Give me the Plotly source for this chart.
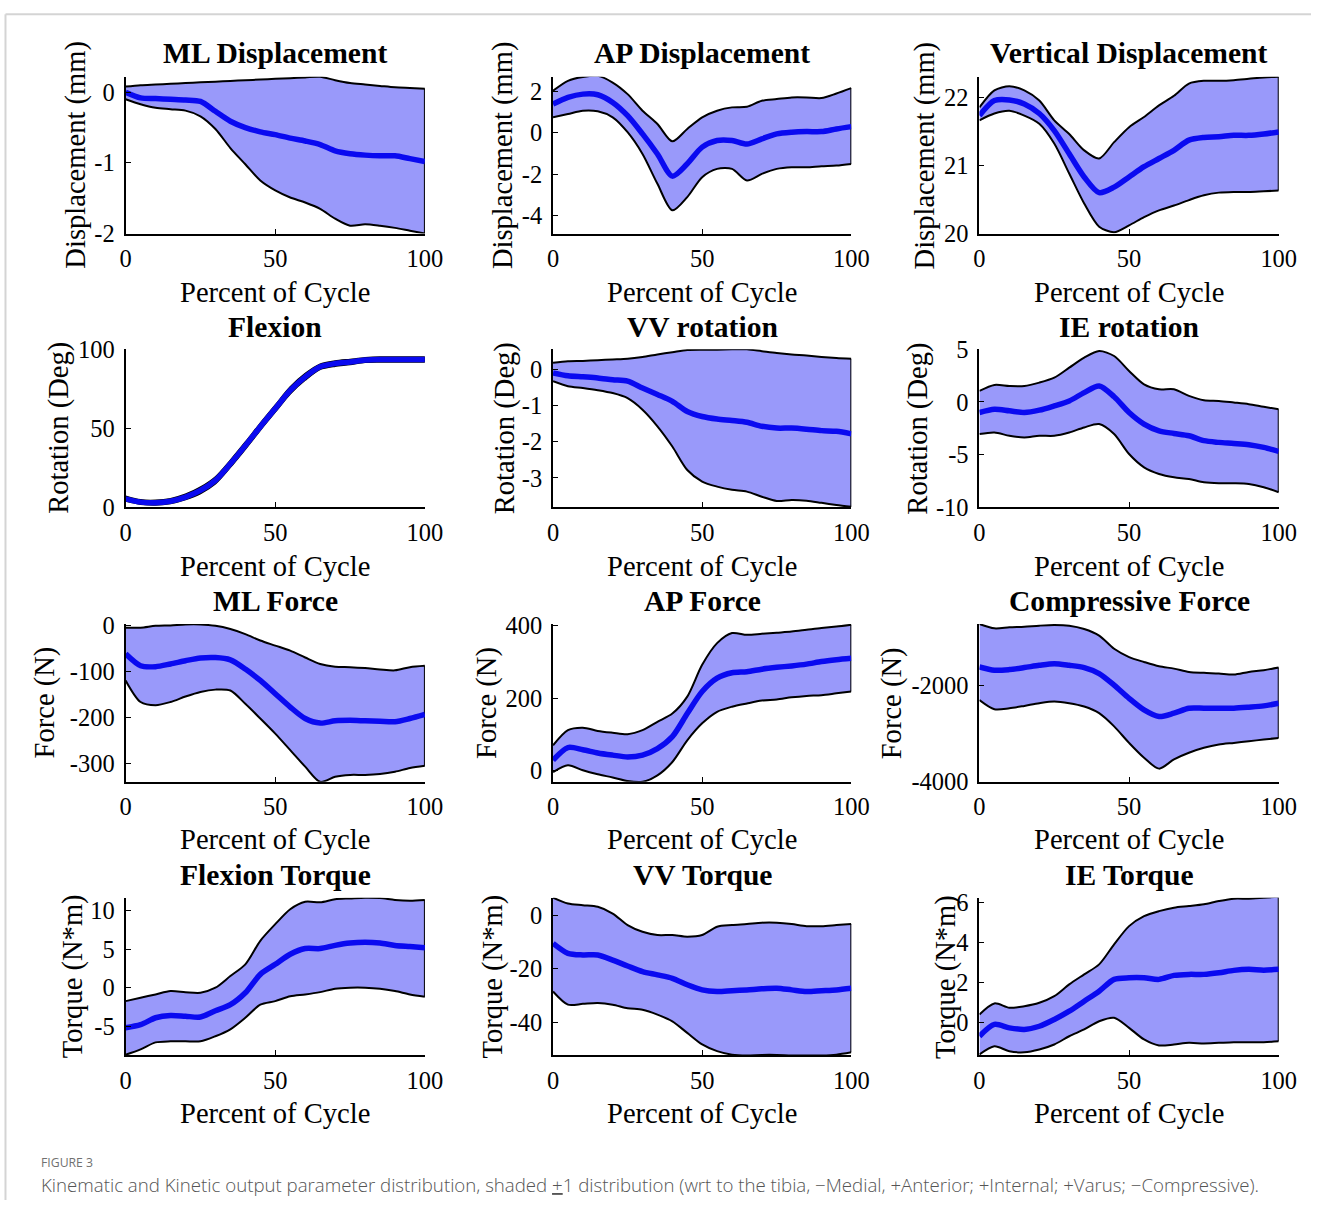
import plotly.graph_objects as go

W, H = 1329, 1214

PCT = [0, 5, 10, 15, 20, 25, 30, 35, 40, 45, 50, 55, 60, 65, 70, 75, 80, 85, 90, 95, 100]

ML_DISP_MEAN = [0.0, -0.08, -0.09, -0.1, -0.11, -0.13, -0.27, -0.41, -0.5, -0.56, -0.6, -0.65, -0.69, -0.74, -0.83, -0.87, -0.89, -0.9, -0.9, -0.94, -0.98]
ML_DISP_UPPER = [0.08, 0.1, 0.11, 0.12, 0.13, 0.14, 0.15, 0.16, 0.17, 0.18, 0.19, 0.2, 0.21, 0.22, 0.17, 0.13, 0.11, 0.09, 0.07, 0.06, 0.05]
ML_DISP_LOWER = [-0.1, -0.17, -0.22, -0.24, -0.26, -0.34, -0.52, -0.79, -1.02, -1.25, -1.39, -1.49, -1.56, -1.65, -1.79, -1.89, -1.87, -1.89, -1.92, -1.96, -2.0]

AP_DISP_MEAN = [1.38, 1.7, 1.86, 1.83, 1.46, 0.82, -0.06, -1.03, -2.1, -1.5, -0.7, -0.38, -0.38, -0.55, -0.3, -0.06, 0.02, 0.05, 0.05, 0.18, 0.29]
AP_DISP_UPPER = [2.02, 2.5, 2.69, 2.74, 2.42, 1.86, 1.06, 0.42, -0.42, 0.18, 0.74, 1.06, 1.22, 1.25, 1.54, 1.62, 1.7, 1.7, 1.67, 1.89, 2.15]
AP_DISP_LOWER = [0.74, 0.9, 1.06, 1.03, 0.74, 0.02, -1.03, -2.47, -3.75, -3.11, -2.15, -1.75, -1.75, -2.31, -1.99, -1.75, -1.67, -1.67, -1.62, -1.59, -1.51]

VERT_DISP_MEAN = [21.73, 21.95, 21.96, 21.9, 21.76, 21.51, 21.17, 20.83, 20.6, 20.68, 20.83, 20.98, 21.1, 21.22, 21.37, 21.41, 21.42, 21.44, 21.44, 21.46, 21.49]
VERT_DISP_UPPER = [21.85, 22.1, 22.16, 22.1, 21.95, 21.66, 21.46, 21.22, 21.1, 21.34, 21.56, 21.71, 21.88, 22.02, 22.2, 22.24, 22.24, 22.25, 22.27, 22.29, 22.3]
VERT_DISP_LOWER = [21.66, 21.76, 21.8, 21.73, 21.61, 21.32, 20.88, 20.44, 20.1, 20.02, 20.12, 20.24, 20.34, 20.41, 20.49, 20.56, 20.6, 20.61, 20.61, 20.62, 20.63]

FLEX_MEAN = [5.3, 3.2, 2.8, 3.8, 6.4, 10.6, 17, 27.5, 39, 51, 62.5, 74, 82.6, 89, 91, 92, 93.2, 93.6, 93.6, 93.6, 93.6]
FLEX_UPPER = [6.8, 4.5, 4.2, 5.2, 8, 12.5, 19, 29.5, 41, 53, 64.5, 76, 84.5, 90.5, 92.5, 93.5, 94.5, 95, 95, 95, 95]
FLEX_LOWER = [4, 2, 1.5, 2.5, 5, 8.8, 15, 25.5, 37, 49, 60.5, 72, 80.7, 87.5, 89.5, 90.5, 92, 92.2, 92.2, 92.2, 92.2]

VV_ROT_MEAN = [-0.09, -0.17, -0.2, -0.23, -0.28, -0.32, -0.51, -0.69, -0.88, -1.16, -1.3, -1.37, -1.41, -1.46, -1.57, -1.62, -1.62, -1.65, -1.69, -1.71, -1.78]
VV_ROT_UPPER = [0.19, 0.23, 0.24, 0.26, 0.28, 0.3, 0.35, 0.42, 0.48, 0.54, 0.55, 0.55, 0.56, 0.56, 0.51, 0.46, 0.42, 0.39, 0.35, 0.32, 0.3]
VV_ROT_LOWER = [-0.32, -0.46, -0.51, -0.57, -0.65, -0.79, -1.11, -1.57, -2.13, -2.78, -3.1, -3.24, -3.33, -3.38, -3.52, -3.64, -3.61, -3.63, -3.69, -3.75, -3.8]

IE_ROT_MEAN = [-1.0, -0.69, -0.84, -1.0, -0.78, -0.37, 0.1, 0.89, 1.52, 0.5, -1.0, -2.1, -2.74, -2.99, -3.21, -3.68, -3.84, -3.94, -4.06, -4.32, -4.7]
IE_ROT_UPPER = [1.05, 1.62, 1.52, 1.52, 1.84, 2.31, 3.26, 4.21, 4.84, 4.37, 2.95, 1.68, 1.21, 1.21, 0.58, 0.17, 0.1, -0.05, -0.21, -0.46, -0.69]
IE_ROT_LOWER = [-3.05, -2.9, -3.21, -3.37, -3.21, -3.21, -2.9, -2.42, -2.1, -3.05, -4.95, -6.21, -6.84, -7.16, -7.32, -7.63, -7.73, -7.73, -7.79, -8.1, -8.58]

ML_FORCE_MEAN = [-61, -87, -89, -83, -76, -70, -69, -74, -94, -119, -148, -177, -202, -212, -207, -206, -207, -208, -209, -202, -193]
ML_FORCE_UPPER = [-4, -4, 0, 1, 3, 3, 0, -7, -18, -32, -43, -54, -69, -83, -89, -90, -92, -95, -97, -90, -87]
ML_FORCE_LOWER = [-119, -166, -173, -166, -154, -144, -139, -141, -170, -202, -235, -271, -307, -340, -329, -325, -325, -323, -318, -310, -305]

AP_FORCE_MEAN = [28, 63, 57, 48, 42, 37, 42, 60, 93, 157, 218, 255, 270, 273, 280, 285, 289, 294, 301, 306, 310]
AP_FORCE_UPPER = [69, 111, 118, 109, 104, 100, 111, 134, 157, 204, 292, 352, 380, 375, 378, 381, 384, 389, 394, 398, 403]
AP_FORCE_LOWER = [-5, 14, 0, -11, -20, -30, -32, -14, 23, 83, 130, 162, 176, 185, 193, 196, 202, 206, 208, 213, 218]

COMP_FORCE_MEAN = [-1625, -1693, -1679, -1638, -1590, -1556, -1590, -1638, -1761, -2000, -2273, -2512, -2648, -2580, -2478, -2478, -2478, -2478, -2457, -2430, -2375]
COMP_FORCE_UPPER = [-737, -826, -805, -792, -771, -758, -771, -840, -976, -1249, -1420, -1522, -1611, -1659, -1727, -1747, -1761, -1782, -1727, -1693, -1638]
COMP_FORCE_LOWER = [-2307, -2498, -2478, -2430, -2375, -2341, -2375, -2444, -2580, -2853, -3195, -3502, -3727, -3536, -3399, -3297, -3229, -3195, -3160, -3126, -3092]

FLEX_TORQUE_MEAN = [-5.2, -4.8, -3.9, -3.6, -3.7, -3.8, -3.0, -2.2, -0.65, 1.74, 3.04, 4.35, 5.09, 5.09, 5.5, 5.8, 5.9, 5.8, 5.5, 5.35, 5.2]
FLEX_TORQUE_UPPER = [-1.74, -1.3, -0.87, -0.43, -0.57, -0.65, 0.0, 1.52, 3.04, 6.1, 8.26, 10.2, 11.17, 11.1, 11.5, 11.6, 11.7, 11.65, 11.4, 11.3, 11.4]
FLEX_TORQUE_LOWER = [-8.7, -8.0, -7.1, -6.96, -6.96, -6.96, -6.3, -5.4, -3.9, -2.2, -1.74, -1.1, -0.87, -0.57, -0.13, 0.0, 0.0, -0.13, -0.43, -0.87, -1.17]

VV_TORQUE_MEAN = [-10.5, -14.2, -14.8, -14.8, -16.7, -18.9, -21, -22.2, -23.5, -25.9, -27.8, -28.4, -28.1, -27.8, -27.4, -27.2, -27.8, -28.4, -28.1, -27.8, -27.2]
VV_TORQUE_UPPER = [6.5, 4.3, 3.7, 3.1, 0.6, -3.7, -6.2, -7.4, -7.4, -8.0, -7.4, -4.3, -3.7, -3.3, -2.8, -2.8, -3.3, -4.1, -4.1, -3.7, -3.3]
VV_TORQUE_LOWER = [-28.4, -33.3, -33, -32.7, -33.3, -34.6, -35.2, -37, -39.5, -43.8, -48.1, -50.6, -51.9, -52.2, -52.0, -52.0, -52.2, -52.2, -52.2, -51.9, -51]

IE_TORQUE_MEAN = [-0.67, -0.08, -0.25, -0.33, -0.17, 0.17, 0.58, 1.08, 1.58, 2.17, 2.25, 2.25, 2.17, 2.37, 2.42, 2.42, 2.5, 2.62, 2.67, 2.63, 2.67]
IE_TORQUE_UPPER = [0.42, 0.97, 0.75, 0.83, 1.0, 1.33, 1.92, 2.42, 2.92, 3.92, 4.83, 5.33, 5.58, 5.75, 5.83, 5.92, 6.08, 6.2, 6.2, 6.25, 6.3]
IE_TORQUE_LOWER = [-1.58, -1.17, -1.42, -1.47, -1.33, -1.08, -0.67, -0.33, 0.08, 0.25, -0.25, -0.83, -1.13, -1.08, -1.0, -1.03, -1.0, -0.97, -0.97, -0.97, -0.92]

TITLES = ["ML Displacement", "AP Displacement", "Vertical Displacement",
          "Flexion", "VV rotation", "IE rotation",
          "ML Force", "AP Force", "Compressive Force",
          "Flexion Torque", "VV Torque", "IE Torque"]
YLABELS = ["Displacement (mm)"] * 3 + ["Rotation (Deg)"] * 3 + ["Force (N)"] * 3 + ["Torque (N*m)"] * 3
XLABEL = "Percent of Cycle"
X_TICKS = [0, 50, 100]
Y_RANGES = [[-2, 0.22], [-4.87, 2.7], [20, 22.3],
            [0, 100], [-3.81, 0.56], [-10, 5],
            [-340, 4], [-32, 405], [-4000, -737],
            [-8.8, 11.7], [-52.2, 6.5], [-1.63, 6.25]]
Y_TICKS = [[-2, -1, 0], [-4, -2, 0, 2], [20, 21, 22],
           [0, 50, 100], [-3, -2, -1, 0], [-10, -5, 0, 5],
           [-300, -200, -100, 0], [0, 200, 400], [-4000, -2000],
           [-5, 0, 5, 10], [-40, -20, 0], [0, 2, 4, 6]]
SERIES = [
    (ML_DISP_MEAN, ML_DISP_UPPER, ML_DISP_LOWER),
    (AP_DISP_MEAN, AP_DISP_UPPER, AP_DISP_LOWER),
    (VERT_DISP_MEAN, VERT_DISP_UPPER, VERT_DISP_LOWER),
    (FLEX_MEAN, FLEX_UPPER, FLEX_LOWER),
    (VV_ROT_MEAN, VV_ROT_UPPER, VV_ROT_LOWER),
    (IE_ROT_MEAN, IE_ROT_UPPER, IE_ROT_LOWER),
    (ML_FORCE_MEAN, ML_FORCE_UPPER, ML_FORCE_LOWER),
    (AP_FORCE_MEAN, AP_FORCE_UPPER, AP_FORCE_LOWER),
    (COMP_FORCE_MEAN, COMP_FORCE_UPPER, COMP_FORCE_LOWER),
    (FLEX_TORQUE_MEAN, FLEX_TORQUE_UPPER, FLEX_TORQUE_LOWER),
    (VV_TORQUE_MEAN, VV_TORQUE_UPPER, VV_TORQUE_LOWER),
    (IE_TORQUE_MEAN, IE_TORQUE_UPPER, IE_TORQUE_LOWER),
]

# ---- layout geometry (target pixel positions in the final picture) ----
SX, OX = 0.981, 6.5     # observed page scaling / offset of the rendered figure
SY, OY = 0.979, 12.2
FS = 1 / 0.98


def px(X):
    return ((X - OX) / SX) / W


def py(Y):
    return 1 - ((Y - OY) / SY) / H


COL_X = [(126, 425), (553, 851), (979, 1278)]
ROW_Y = [(76, 233), (349, 507), (624, 782), (898, 1056)]
TITLE_Y = [52, 327, 601, 875]
XLABEL_Y = [292, 566, 840, 1114]
YLABEL_X = [77, 503, 925, 60, 505, 918, 45, 487, 892, 73, 493, 945]

SERIF = "Liberation Serif"
FILL = "rgb(153,153,250)"
MEAN_COLOR = "rgb(10,10,240)"

fig = go.Figure()
annotations = []
layout_axes = {}

for i in range(12):
    r, c = divmod(i, 3)
    n = "" if i == 0 else str(i + 1)
    xa, ya = "x" + n, "y" + n
    mean, up, lo = SERIES[i]
    common = dict(xaxis=xa, yaxis=ya, showlegend=False, hoverinfo="skip")
    sp = dict(shape="spline", smoothing=0.8)
    fig.add_trace(go.Scatter(x=PCT, y=lo, mode="lines", line=dict(width=0, **sp), **common))
    fig.add_trace(go.Scatter(x=PCT, y=up, mode="lines", line=dict(width=0, **sp),
                             fill="tonexty", fillcolor=FILL, **common))
    fig.add_trace(go.Scatter(x=PCT, y=lo, mode="lines", line=dict(color="black", width=2, **sp), **common))
    fig.add_trace(go.Scatter(x=PCT, y=up, mode="lines", line=dict(color="black", width=2, **sp), **common))
    fig.add_trace(go.Scatter(x=[PCT[-1], PCT[-1]], y=[lo[-1], up[-1]], mode="lines",
                             line=dict(color="black", width=2), **common))
    fig.add_trace(go.Scatter(x=PCT, y=mean, mode="lines", line=dict(color=MEAN_COLOR, width=5.5, **sp), **common))

    x0, x1 = COL_X[c]
    y0, y1 = ROW_Y[r]
    axis_common = dict(showline=True, linecolor="black", linewidth=2, mirror=False,
                       ticks="inside", ticklen=5, tickwidth=1, tickcolor="black",
                       showgrid=False, zeroline=False, fixedrange=True,
                       tickfont=dict(family=SERIF, size=24 * FS, color="black"))
    layout_axes["xaxis" + n] = dict(domain=[px(x0), px(x1)], range=[0, 100],
                                    tickvals=X_TICKS, ticktext=[f"{v:g}" for v in X_TICKS],
                                    anchor=ya, ticklabelstandoff=2, **axis_common)
    layout_axes["yaxis" + n] = dict(domain=[py(y1), py(y0)], range=Y_RANGES[i],
                                    tickvals=Y_TICKS[i], ticktext=[f"{v:g}" for v in Y_TICKS[i]],
                                    anchor=xa, ticklabelstandoff=4, **axis_common)
    cx = (x0 + x1) / 2
    annotations.append(dict(text="<b>" + TITLES[i] + "</b>", x=px(cx), y=py(TITLE_Y[r]),
                            xref="paper", yref="paper", xanchor="center", yanchor="middle",
                            showarrow=False, font=dict(family=SERIF, size=29 * FS, color="black")))
    annotations.append(dict(text=XLABEL, x=px(cx), y=py(XLABEL_Y[r]),
                            xref="paper", yref="paper", xanchor="center", yanchor="middle",
                            showarrow=False, font=dict(family=SERIF, size=28 * FS, color="black")))
    annotations.append(dict(text=YLABELS[i], x=px(YLABEL_X[i]), y=py((y0 + y1) / 2),
                            xref="paper", yref="paper", xanchor="center", yanchor="middle",
                            textangle=-90, showarrow=False,
                            font=dict(family=SERIF, size=28 * FS, color="black")))

annotations.append(dict(text="FIGURE 3", x=px(39), y=py(1163), xref="paper", yref="paper",
                        xanchor="left", yanchor="middle", showarrow=False,
                        font=dict(family="Open Sans", size=12 * FS, color="#707070")))
annotations.append(dict(text="Kinematic and Kinetic output parameter distribution, shaded <u>+</u>1 distribution "
                             "(wrt to the tibia, \u2212Medial, +Anterior; +Internal; +Varus; \u2212Compressive).",
                        x=px(39), y=py(1185), xref="paper", yref="paper",
                        xanchor="left", yanchor="middle", showarrow=False,
                        font=dict(family="Open Sans", size=18.3 * FS, color="#555555", weight=300)))

shapes = [
    dict(type="line", xref="paper", yref="paper", x0=px(6), x1=1, y0=0.999, y1=0.999,
         line=dict(color="#d4d4d4", width=2)),
    dict(type="line", xref="paper", yref="paper", x0=px(6), x1=px(6), y0=0.999, y1=0,
         line=dict(color="#d4d4d4", width=2)),
]

fig.update_layout(width=W, height=H, margin=dict(l=0, r=0, t=0, b=0),
                  paper_bgcolor="white", plot_bgcolor="white",
                  annotations=annotations, shapes=shapes, **layout_axes)

fig.write_html("out.html")
